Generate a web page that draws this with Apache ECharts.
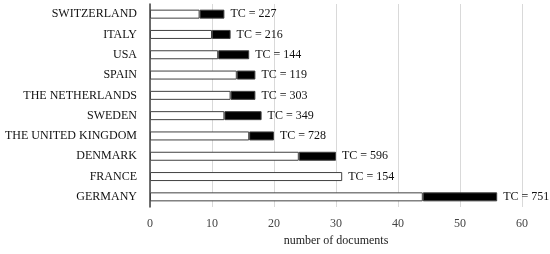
<!DOCTYPE html>
<html><head><meta charset="utf-8">
<script src="https://cdn.jsdelivr.net/npm/echarts@6/dist/echarts.min.js"></script>
<style>html,body{margin:0;padding:0;background:#fff}#c{width:550px;height:254px}</style>
</head><body><div id="c"></div>
<script>
const countries = ["SWITZERLAND","ITALY","USA","SPAIN","THE NETHERLANDS","SWEDEN","THE UNITED KINGDOM","DENMARK","FRANCE","GERMANY"];
const whitePart = [8,10,11,14,13,12,16,24,31,44];
const blackPart = [4,3,5,3,4,6,4,6,0,12];
const tcValues = [227,216,144,119,303,349,728,596,154,751];
const xTicks = [0,10,20,30,40,50,60];

const font = "'Liberation Serif', 'DejaVu Serif', serif";
const chart = echarts.init(document.getElementById('c'));
chart.setOption({
  animation:false,
  grid:{left:150,right:28,top:4,bottom:47,containLabel:false},
  xAxis:{type:'value',min:0,max:60,interval:10,
    name:'number of documents',nameLocation:'middle',nameGap:26,
    nameTextStyle:{fontFamily:font,fontSize:12,color:'#222'},
    axisLine:{show:false},axisTick:{show:false},
    axisLabel:{fontFamily:font,fontSize:12,color:'#444',margin:11},
    splitLine:{show:true,lineStyle:{color:'#d9d9d9',width:1}}
  },
  yAxis:{type:'category',data:countries,inverse:true,
    axisLine:{show:true,lineStyle:{color:'#404040',width:1.5}},
    axisTick:{show:false},
    axisLabel:{fontFamily:font,fontSize:12,color:'#111',margin:13}
  },
  series:[
    {type:'bar',stack:'t',data:whitePart,barWidth:9,
      itemStyle:{color:'#ffffff',borderColor:'#404040',borderWidth:1}},
    {type:'bar',stack:'t',barWidth:9,
      data:blackPart.map((v,i)=>({value:v,itemStyle:{borderWidth: v===0?0:1}})),
      itemStyle:{color:'#000000',borderColor:'#404040',borderWidth:1},
      label:{show:true,position:'right',distance:6,fontFamily:font,fontSize:12,color:'#111',
        formatter:p=>'TC = '+tcValues[p.dataIndex]}}
  ]
});
</script></body></html>
